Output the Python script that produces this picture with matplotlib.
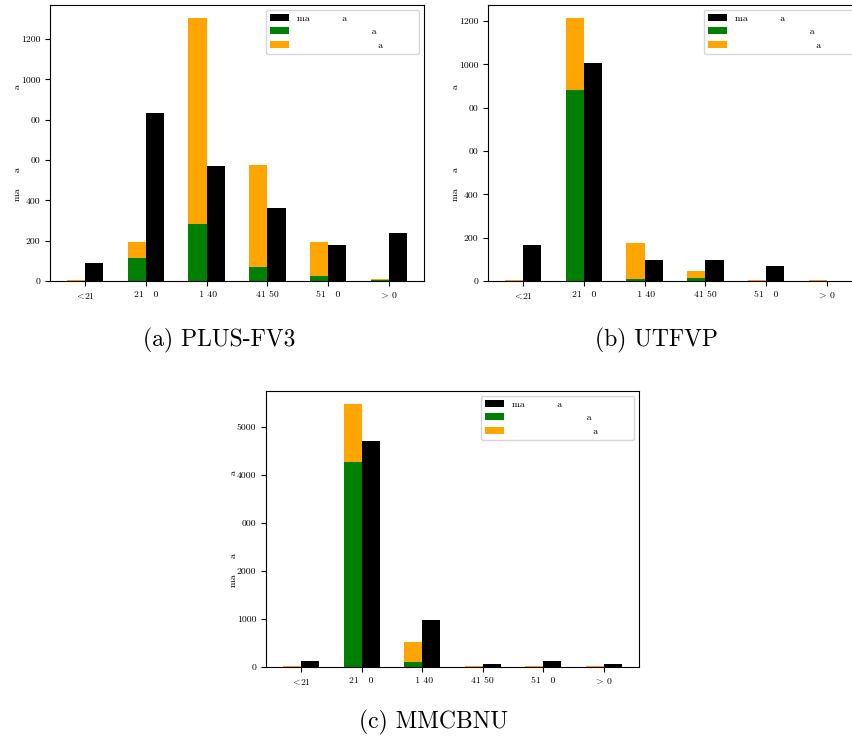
import matplotlib
matplotlib.use("Agg")
import matplotlib.pyplot as plt
import numpy as np

plt.rcParams['font.family'] = ['cmr10', 'DejaVu Serif']
plt.rcParams['mathtext.fontset'] = 'cm'
plt.rcParams['axes.unicode_minus'] = False

# age groups (labels as they appear, some glyphs missing in the original)
groups = [r"$\!<\!$21", "21   0", " 1 40", "41 50", "51   0", r"$\!>\!$ 0"]

# (a) PLUS-FV3
a_black = [89, 832, 570, 362, 178, 238]
a_green = [1, 114, 283, 69, 25, 5]
a_orange = [2, 79, 1021, 506, 168, 5]
a_yticks = [0, 200, 400, 600, 800, 1000, 1200]
a_ylabels = ["0", "200", "400", "00", "00", "1000", "1200"]

# (b) UTFVP
b_black = [166, 1006, 97, 97, 69, 2]
b_green = [1, 882, 9, 15, 1, 1]
b_orange = [2, 332, 166, 31, 2, 2]
b_yticks = [0, 200, 400, 600, 800, 1000, 1200]
b_ylabels = ["0", "200", "400", "00", "00", "1000", "1200"]

# (c) MMCBNU
c_black = [118, 4701, 972, 56, 118, 56]
c_green = [5, 4264, 97, 5, 5, 5]
c_orange = [10, 1208, 417, 10, 10, 10]
c_yticks = [0, 1000, 2000, 3000, 4000, 5000]
c_ylabels = ["0", "1000", "2000", "000", "4000", "5000"]

captions = ["(a) PLUS-FV3", "(b) UTFVP", "(c) MMCBNU"]
leg_labels = ["ma" + " " * 10 + "a" + " " * 21,
              " " * 23 + "a",
              " " * 25 + "a"]
ylab = "ma" + " " * 5 + "a" + " " * 24 + "a"

W, H = 853, 740
fig = plt.figure(figsize=(W / 100, H / 100), dpi=100)

def box(l, t, w, h):
    return [l / W, 1 - (t + h) / H, w / W, h / H]

axs = [fig.add_axes(box(50, 5, 374, 276)),
       fig.add_axes(box(488, 5, 374, 276)),
       fig.add_axes(box(266, 391, 373, 276))]

datasets = [(a_black, a_green, a_orange, a_yticks, a_ylabels),
            (b_black, b_green, b_orange, b_yticks, b_ylabels),
            (c_black, c_green, c_orange, c_yticks, c_ylabels)]

x = np.arange(len(groups))
w = 0.3
for ax, (blk, grn, org, yt, yl) in zip(axs, datasets):
    ax.bar(x + w / 2, blk, w, color="black", label=leg_labels[0])
    ax.bar(x - w / 2, grn, w, color="green", label=leg_labels[1])
    ax.bar(x - w / 2, org, w, bottom=grn, color="orange", label=leg_labels[2])
    ax.set_xticks(x)
    ax.set_xticklabels(groups, fontsize=7)
    ax.set_yticks(yt)
    ax.set_yticklabels(yl, fontsize=7)
    ax.set_ylabel(ylab, fontsize=7, labelpad=-1)
    ax.legend(loc="upper right", fontsize=7)

fig.text(219 / W, 1 - 340 / H, captions[0], fontsize=17, ha="center", va="center")
fig.text(657 / W, 1 - 340 / H, captions[1], fontsize=17, ha="center", va="center")
fig.text(434 / W, 1 - 722 / H, captions[2], fontsize=17, ha="center", va="center")

fig.savefig("out.png", dpi=100)
